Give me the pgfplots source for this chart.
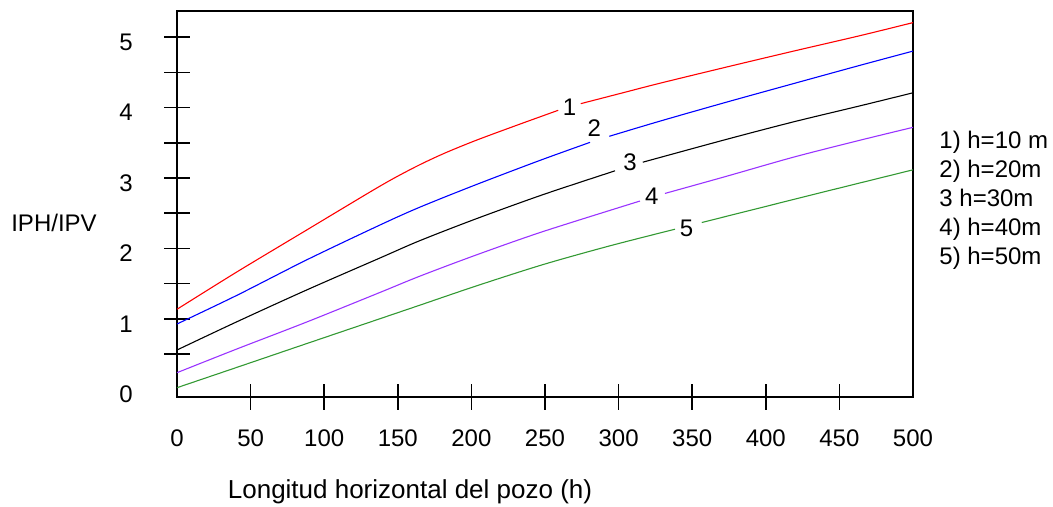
\documentclass[border=0pt]{standalone}
\usepackage{pgfplots}
\pgfplotsset{compat=1.18}
\usepackage{fontspec}
\setmainfont{Liberation Sans}
\definecolor{cred}{RGB}{255,0,0}
\definecolor{cblue}{RGB}{0,0,255}
\definecolor{cpurple}{RGB}{153,51,255}
\definecolor{cgreen}{RGB}{51,153,51}
\newcommand\fa{\fontsize{12}{14.4}\selectfont}
\newcommand\fb{\fontsize{13}{15.6}\selectfont}
\begin{document}
\begin{tikzpicture}[x=1pt,y=1pt]
\useasboundingbox (0,0) rectangle (526.5,253.5);
\begin{axis}[
  at={(88.5pt,55pt)}, anchor=south west,
  scale only axis, width=368pt, height=193pt,
  xmin=0, xmax=500, ymin=-0.108, ymax=5.370,
  axis line style={line width=0.8pt},
  tick pos=left, tick align=center,
  major tick length=13pt,
  every tick/.style={line width=0.8pt, black},
  xtick={50,100,...,450},
  extra x ticks={0,500},
  extra x tick style={major tick style={draw=none}},
  ytick={0.5,1,...,5},
  yticklabels={,1,,2,,3,,4,,5},
  extra y ticks={0},
  extra y tick labels={0},
  extra y tick style={major tick style={draw=none}},
  /pgf/number format/assume math mode=true,
  xticklabel style={anchor=center, yshift=-14pt, font=\fa},
  yticklabel style={anchor=center, xshift=-19pt, yshift=-2.5pt, font=\fa},
  unbounded coords=jump,
  every axis plot/.append style={line width=0.55pt, no markers},
  clip=false,
]
\addplot[cred, smooth] coordinates {
 (0,1.137) (40.6,1.666) (88.1,2.262) (131.1,2.801) (148.1,3.005) (165.1,3.190) (182.1,3.355) (203.6,3.538) (233.0,3.765) (259.0,3.961)
 (266,nan)
 (274.3,4.055) (301.0,4.199) (328.1,4.345) (373.4,4.575) (418.7,4.800) (464.0,5.020) (500,5.205)};
\addplot[cblue, smooth] coordinates {
 (0,0.928) (40.6,1.334) (88.1,1.838) (137.9,2.333) (165.1,2.587) (203.6,2.909) (246.6,3.250) (280.6,3.506)
 (287,nan)
 (293.7,3.592) (328.1,3.807) (373.4,4.077) (418.7,4.339) (464.0,4.599) (500,4.801)};
\addplot[black, smooth] coordinates {
 (0,0.559) (40.6,0.959) (88.1,1.411) (137.9,1.865) (165.1,2.112) (203.6,2.424) (248.8,2.765) (297.6,3.102)
 (307,nan)
 (316.4,3.224) (373.4,3.549) (418.7,3.796) (464.0,4.024) (500,4.209)};
\addplot[cpurple, smooth] coordinates {
 (0,0.237) (40.6,0.573) (88.1,0.956) (137.9,1.376) (165.1,1.608) (203.6,1.910) (248.8,2.241) (314.5,2.673)
 (323,nan)
 (331.5,2.781) (373.4,3.025) (418.7,3.295) (464.0,3.536) (500,3.719)};
\addplot[cgreen, smooth] coordinates {
 (0,0.024) (40.6,0.312) (88.1,0.650) (137.9,1.003) (165.1,1.196) (203.6,1.470) (248.8,1.772) (294.2,2.038) (338.3,2.273)
 (347,nan)
 (356.5,2.368) (396.1,2.576) (441.4,2.813) (500,3.116)};
\node[font=\fa] at (axis cs:266.6,4.00) {1};
\node[font=\fa] at (axis cs:283.5,3.71) {2};
\node[font=\fa] at (axis cs:307.7,3.22) {3};
\node[font=\fa] at (axis cs:322.5,2.74) {4};
\node[font=\fa] at (axis cs:346.2,2.29) {5};
\end{axis}
\node[font=\fa] at (27,141.8) {IPH/IPV};
\node[font=\fb] at (205,7.5) {Longitud horizontal del pozo (h)};
\node[font=\fa, anchor=base west, inner sep=0pt] at (469.5,179.2) {1) h=10 m};
\node[font=\fa, anchor=base west, inner sep=0pt] at (469.5,164.7) {2) h=20m};
\node[font=\fa, anchor=base west, inner sep=0pt] at (469.5,150.2) {3 h=30m};
\node[font=\fa, anchor=base west, inner sep=0pt] at (469.5,135.7) {4) h=40m};
\node[font=\fa, anchor=base west, inner sep=0pt] at (469.5,121.2) {5) h=50m};
\end{tikzpicture}
\end{document}
